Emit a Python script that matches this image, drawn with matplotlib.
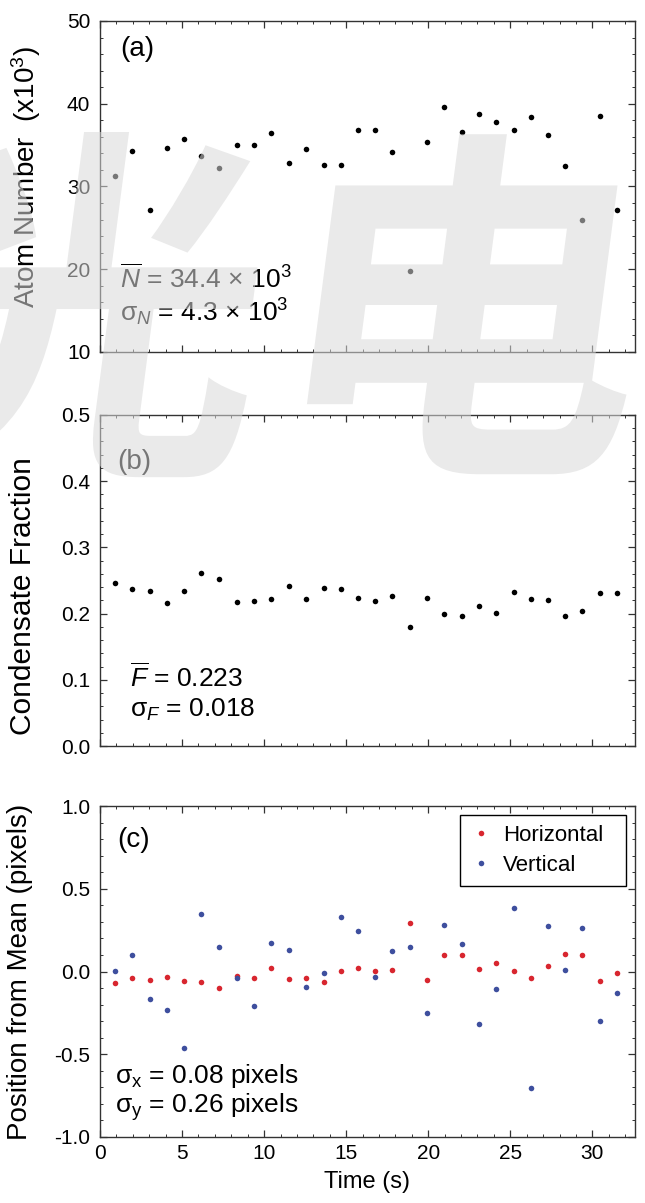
import numpy as np
import matplotlib
matplotlib.use("Agg")
import matplotlib.pyplot as plt
from matplotlib.ticker import MultipleLocator
from matplotlib.textpath import TextPath
from matplotlib.patches import PathPatch
from matplotlib.font_manager import FontProperties
from matplotlib.transforms import Affine2D, IdentityTransform

plt.rcParams['font.family'] = ['Liberation Sans', 'DejaVu Sans']
plt.rcParams['mathtext.fontset'] = 'custom'
plt.rcParams['mathtext.rm'] = 'Liberation Sans'
plt.rcParams['mathtext.it'] = 'Liberation Sans:italic'
plt.rcParams['mathtext.bf'] = 'Liberation Sans:bold'
plt.rcParams['axes.unicode_minus'] = False

# shot times (s)
time_s = [0.89, 1.98, 3.04, 4.09, 5.13, 6.15, 7.28, 8.36, 9.38, 10.43,
          11.51, 12.53, 13.62, 14.68, 15.71, 16.77, 17.79, 18.86, 19.92, 20.94,
          22.03, 23.09, 24.11, 25.20, 26.26, 27.28, 28.35, 29.37, 30.45, 31.52]

# (a) atom number, x10^3
atom_number = [31.3, 34.3, 27.1, 34.7, 35.8, 33.7, 32.2, 35.0, 35.0, 36.5,
               32.9, 34.5, 32.6, 32.6, 36.8, 36.8, 34.2, 19.8, 35.4, 39.6,
               36.6, 38.8, 37.8, 36.8, 38.4, 36.2, 32.5, 25.9, 38.5, 27.2]

# (b) condensate fraction
cond_fraction = [0.246, 0.237, 0.234, 0.216, 0.234, 0.262, 0.252, 0.217, 0.219, 0.222,
                 0.242, 0.222, 0.239, 0.237, 0.224, 0.219, 0.227, 0.180, 0.224, 0.199,
                 0.196, 0.211, 0.201, 0.232, 0.222, 0.221, 0.196, 0.204, 0.231, 0.231]

# (c) position from mean (pixels)
pos_horizontal = [-0.072, -0.038, -0.052, -0.032, -0.058, -0.066, -0.100, -0.026, -0.038, 0.024,
                  -0.046, -0.038, -0.066, 0.002, 0.024, 0.002, 0.008, 0.296, -0.052, 0.098,
                  0.098, 0.016, 0.050, 0.002, -0.038, 0.036, 0.104, 0.098, -0.058, -0.012]
pos_vertical = [0.002, 0.098, -0.168, -0.230, -0.462, 0.350, 0.146, -0.038, -0.210, 0.174,
                0.132, -0.092, -0.012, 0.330, 0.242, -0.032, 0.124, 0.146, -0.250, 0.282,
                0.166, -0.318, -0.106, 0.384, -0.705, 0.276, 0.010, 0.262, -0.298, -0.128]

W, H = 645, 1203
fig = plt.figure(figsize=(W / 100, H / 100), dpi=100)

left = 100 / W
width = 535 / W
height = 331 / H
ax_a = fig.add_axes([left, (H - 352) / H, width, height])
ax_b = fig.add_axes([left, (H - 746) / H, width, height])
ax_c = fig.add_axes([left, (H - 1137) / H, width, height])

red = '#d8262f'
blue = '#3e4f9e'

for ax in (ax_a, ax_b, ax_c):
    ax.set_xlim(0, 32.6)
    ax.xaxis.set_major_locator(MultipleLocator(5))
    ax.xaxis.set_minor_locator(MultipleLocator(1))
    ax.tick_params(which='both', direction='in', top=True, right=True,
                   color='#333333', labelsize=15, pad=7)
    ax.tick_params(which='major', length=5, width=0.9)
    ax.tick_params(which='minor', length=2.5, width=0.7)
    for s in ax.spines.values():
        s.set_linewidth(1.0)
        s.set_color('#333333')

# (a)
ax_a.plot(time_s, atom_number, 'o', color='black', ms=4, mec='none')
ax_a.set_ylim(10, 50)
ax_a.yaxis.set_major_locator(MultipleLocator(10))
ax_a.yaxis.set_minor_locator(MultipleLocator(2))
ax_a.tick_params(axis='x', labelbottom=False)
ax_a.set_ylabel('Atom Number  (x10$^3$)', fontsize=20)
ax_a.yaxis.set_label_coords(-0.106, 0.53)
ax_a.text(0.037, 0.915, '(a)', transform=ax_a.transAxes, fontsize=20, va='center')
ax_a.text(0.037, 0.193, r'$\overline{N}$ = 34.4 × 10$^3$', transform=ax_a.transAxes,
          fontsize=19, va='baseline')
ax_a.text(0.037, 0.091, r'$\mathrm{σ}_{N}$ = 4.3 × 10$^3$', transform=ax_a.transAxes,
          fontsize=19, va='baseline')

# (b)
ax_b.plot(time_s, cond_fraction, 'o', color='black', ms=4, mec='none')
ax_b.set_ylim(0, 0.5)
ax_b.yaxis.set_major_locator(MultipleLocator(0.1))
ax_b.yaxis.set_minor_locator(MultipleLocator(0.02))
ax_b.tick_params(axis='x', labelbottom=False)
ax_b.set_ylabel('Condensate Fraction', fontsize=21.5)
ax_b.yaxis.set_label_coords(-0.118, 0.453)
ax_b.text(0.033, 0.858, '(b)', transform=ax_b.transAxes, fontsize=20, va='center')
ax_b.text(0.056, 0.178, r'$\overline{F}$ = 0.223', transform=ax_b.transAxes,
          fontsize=19, va='baseline')
ax_b.text(0.056, 0.088, r'$\mathrm{σ}_{F}$ = 0.018', transform=ax_b.transAxes,
          fontsize=19, va='baseline')

# (c)
ax_c.plot(time_s, pos_horizontal, 'o', color=red, ms=4, mec='none', label='Horizontal')
ax_c.plot(time_s, pos_vertical, 'o', color=blue, ms=4, mec='none', label='Vertical')
ax_c.set_ylim(-1, 1)
ax_c.yaxis.set_major_locator(MultipleLocator(0.5))
ax_c.yaxis.set_minor_locator(MultipleLocator(0.1))
ax_c.tick_params(axis='x', labelsize=15, pad=5)
ax_c.set_ylabel('Position from Mean (pixels)', fontsize=20)
ax_c.yaxis.set_label_coords(-0.125, 0.5)
ax_c.set_xlabel('Time (s)', fontsize=17, labelpad=6)
ax_c.text(0.033, 0.897, '(c)', transform=ax_c.transAxes, fontsize=20, va='center')
ax_c.text(0.028, 0.163, r'$\mathrm{σ_x}$ = 0.08 pixels', transform=ax_c.transAxes,
          fontsize=19, va='baseline')
ax_c.text(0.028, 0.073, r'$\mathrm{σ_y}$ = 0.26 pixels', transform=ax_c.transAxes,
          fontsize=19, va='baseline')
leg = ax_c.legend(loc='upper left', bbox_to_anchor=(0.673, 0.5, 0.310, 0.4728),
                  mode='expand', borderaxespad=0,
                  fancybox=False, edgecolor='black', framealpha=1, fontsize=16,
                  handlelength=1.0, handletextpad=0.5, borderpad=0.45, labelspacing=0.4)
leg.get_frame().set_linewidth(1.0)

# faint watermark over the figure
fp = FontProperties(family='Noto Sans CJK SC', weight='bold')
ext = TextPath((0, 0), '光电', size=100, prop=fp).get_extents()
scale = 347 / ext.height
shear = np.arctan(0.13)
tr = (Affine2D().translate(-ext.x0, -ext.y0).scale(scale)
      .skew(shear, 0).translate(-95, H - 479))
for ch, x0 in (('光', -18 / scale), ('电', 100 - 9 / scale)):
    tp = TextPath((x0, 0), ch, size=100, prop=fp)
    wm = PathPatch(tr.transform_path(tp), facecolor='#d9d9d9', edgecolor='none',
                   alpha=0.55, transform=IdentityTransform(), zorder=10)
    fig.add_artist(wm)

fig.savefig('out.png', dpi=100)
